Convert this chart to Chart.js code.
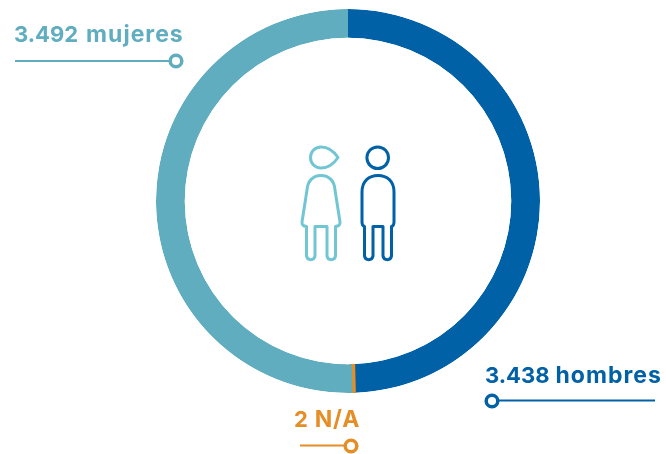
<!DOCTYPE html>
<html>
<head>
<meta charset="utf-8">
<style>
  html, body { margin: 0; padding: 0; background: #fff; }
  #wrap { position: relative; width: 666px; height: 454px; }
</style>
</head>
<body>
<div id="wrap"><canvas id="chart" width="666" height="454"></canvas></div>
<script src="https://cdn.jsdelivr.net/npm/chart.js@4"></script>
<script>
const categories = ['hombres', 'N/A', 'mujeres'];
const values = [3438, 2, 3492];
const colors = ['#0061a6', '#e58e26', '#60adc0'];

// where each callout sits: text start + baseline, then the leader line
const callouts = [
    { x: 485, y: 383, gap: 6, x1: 498, x2: 655, ly: 400.5, dotX: 492, dotY: 401 },
    { x: 294, y: 427, gap: 7, x1: 300, x2: 345, ly: 445.5, dotX: 351, dotY: 446 },
    { x: 14, y: 42, gap: 8, x1: 15, x2: 170, ly: 61, dotX: 176, dotY: 61 }
];

function withDots(n) {
    return String(n).replace(/\B(?=(\d{3})+$)/g, '.');
}

// the N/A slice is too thin to see, it gets a wide border; keep that border inside the ring
const ringClip = {
    id: 'ringClip',
    beforeDatasetsDraw(chart) {
        const arc = chart.getDatasetMeta(0).data[0];
        const ctx = chart.ctx;
        ctx.save();
        ctx.beginPath();
        ctx.arc(arc.x, arc.y, arc.outerRadius, 0, Math.PI * 2);
        ctx.arc(arc.x, arc.y, arc.innerRadius, 0, Math.PI * 2, true);
        ctx.clip();
    },
    afterDatasetsDraw(chart) {
        chart.ctx.restore();
    }
};

const calloutPlugin = {
    id: 'callouts',
    afterDraw(chart) {
        const ctx = chart.ctx;
        ctx.save();
        callouts.forEach((c, i) => {
            const num = withDots(values[i]);
            ctx.fillStyle = colors[i];
            ctx.textBaseline = 'alphabetic';
            ctx.textAlign = 'left';
            ctx.letterSpacing = '0px';
            ctx.font = '700 22px "Inter"';
            ctx.fillText(num, c.x, c.y);
            const w = ctx.measureText(num).width + c.gap;
            ctx.letterSpacing = i == 1 ? '0.7px' : '1px';
            ctx.font = '700 23px "Inter"';
            ctx.fillText(categories[i], c.x + w, c.y);

            ctx.strokeStyle = colors[i];
            ctx.lineWidth = 2;
            ctx.beginPath();
            ctx.moveTo(c.x1, c.ly);
            ctx.lineTo(c.x2, c.ly);
            ctx.stroke();
            ctx.lineWidth = 3.5;
            ctx.beginPath();
            ctx.arc(c.dotX, c.dotY, 5.8, 0, Math.PI * 2);
            ctx.stroke();
        });

        // people in the middle
        ctx.lineWidth = 3;
        ctx.lineJoin = 'round';
        ctx.strokeStyle = '#72c6d3';
        ctx.stroke(new Path2D('M338 157.5 C335 153 329 147 321 147 C314.5 147 310.5 152 310.5 157.5 C310.5 163 314.5 168 321 168 C329 168 335 162 338 157.5 Z'));
        ctx.stroke(new Path2D('M307 190 C307.5 181 313 175.5 321 175.5 C329 175.5 334.5 181 335 190 L340 222 Q340.5 226 335.5 226.5 V256 A4.3 4.3 0 0 1 327 256 V226.5 H315 V256 A4.3 4.3 0 0 1 306.5 256 V226.5 Q301.5 226 302 222 Z'));
        ctx.strokeStyle = '#0061a6';
        ctx.beginPath();
        ctx.arc(377.7, 157.7, 10.8, 0, Math.PI * 2);
        ctx.stroke();
        ctx.stroke(new Path2D('M362 222 V192 C362 181 369 175.5 378 175.5 C387 175.5 394 181 394 192 V222 Q394 226 391.5 226.5 V256 A4.3 4.3 0 0 1 383 256 V226.5 H373 V256 A4.3 4.3 0 0 1 364.5 256 V226.5 Q362 226 362 222 Z'));
        ctx.restore();
    }
};

new Chart(document.getElementById('chart').getContext('2d'), {
    type: 'doughnut',
    data: {
        labels: categories,
        datasets: [{
            data: values,
            backgroundColor: colors,
            borderColor: colors,
            borderWidth: [0, 6, 0]
        }]
    },
    options: {
        responsive: false,
        animation: false,
        cutout: '85%',
        layout: { padding: { left: 153, right: 123, top: 6, bottom: 58 } },
        plugins: {
            legend: { display: false },
            tooltip: { enabled: false }
        }
    },
    plugins: [ringClip, calloutPlugin]
});
</script>
</body>
</html>
